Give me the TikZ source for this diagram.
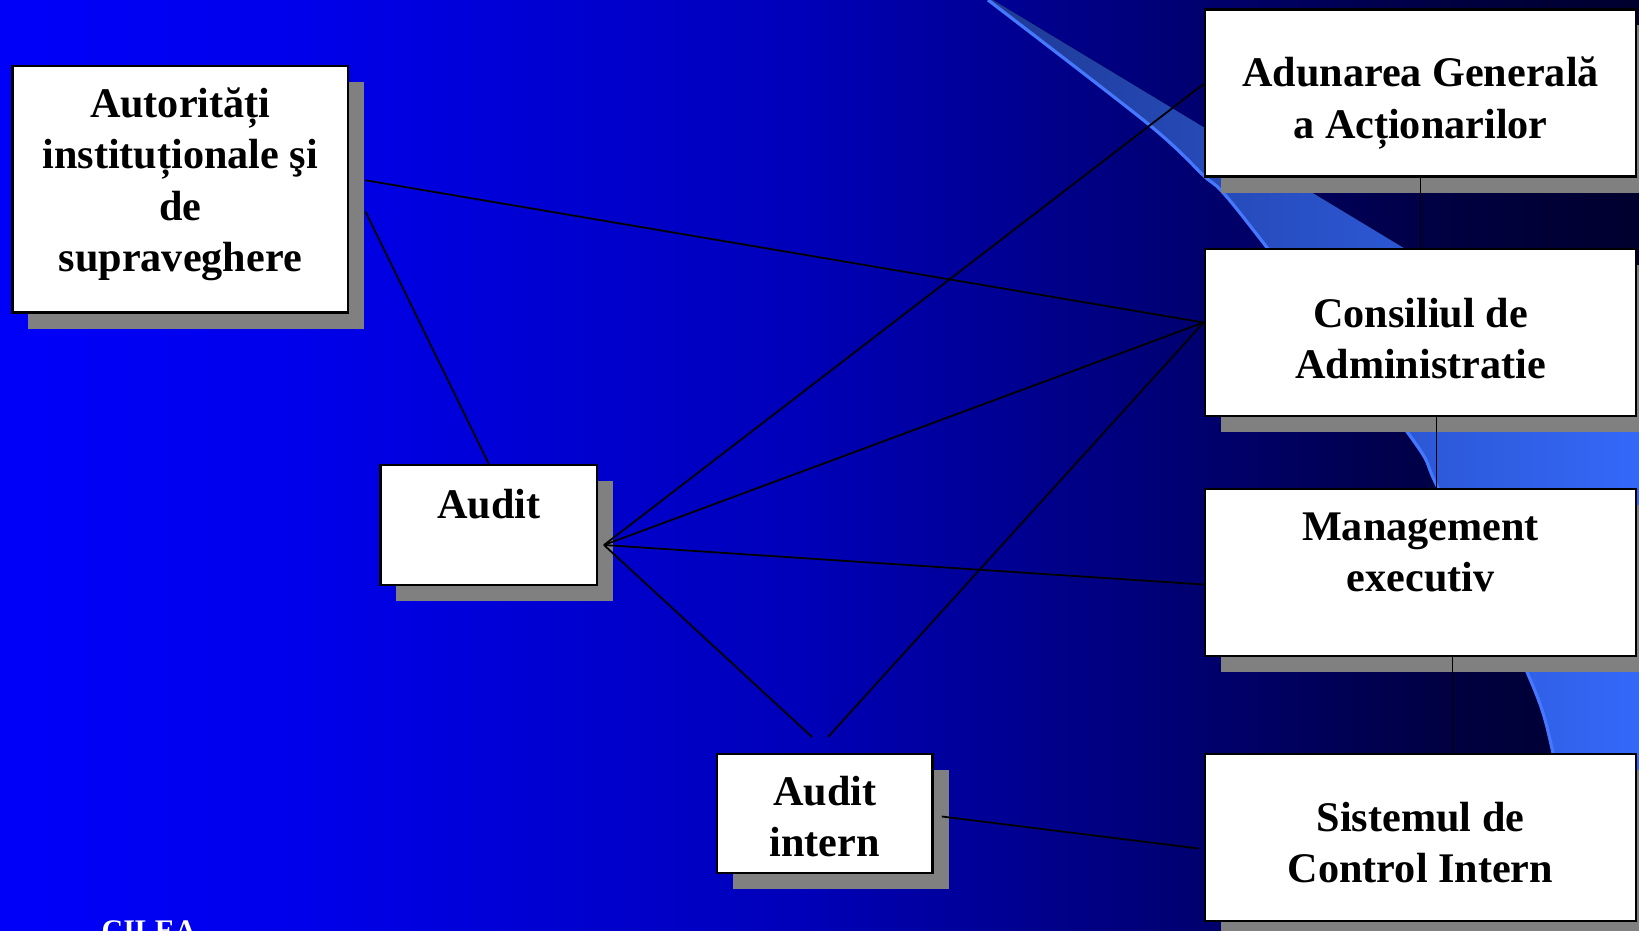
\documentclass[tikz,border=0pt]{standalone}
\usepackage{fontspec}
\setmainfont{Liberation Serif}
\usetikzlibrary{shadows}
\definecolor{bgA}{RGB}{0,0,250}
\definecolor{bgB}{RGB}{0,0,235}
\definecolor{bgC}{RGB}{0,0,185}
\definecolor{bgD}{RGB}{0,0,120}
\definecolor{bgE}{RGB}{0,0,64}
\definecolor{bgF}{RGB}{0,0,46}
\definecolor{swA}{RGB}{30,58,150}
\definecolor{swB}{RGB}{52,104,248}
\definecolor{swLine}{RGB}{70,120,255}
\pgfdeclarehorizontalshading{slidebg}{100bp}{color(0bp)=(bgA); color(25bp)=(bgA); color(34bp)=(bgB); color(49.4bp)=(bgC); color(60.1bp)=(bgD); color(69.5bp)=(bgE); color(75bp)=(bgF); color(100bp)=(bgF)}
\begin{document}
\begin{tikzpicture}[x=0.01cm,y=-0.01cm,
  box/.style={draw=black,line width=0.7pt,fill=white,inner sep=0pt,
    drop shadow={shadow xshift=0.16cm,shadow yshift=-0.16cm,opacity=1}},
  rbox/.style={box,minimum width=4.31cm,minimum height=1.67cm},
  txt/.style={align=center,inner sep=0pt,font=\fontsize{12}{14.6}\selectfont\bfseries},
  link/.style={line width=0.5pt}]
\useasboundingbox (0,0) rectangle (1639,930);
\clip (0,0) rectangle (1639,930);
\fill[shading=slidebg] (0,0) rectangle (1639,930);
\fill[left color=swA,right color=swB] plot[smooth] coordinates {(988,0) (1147,123) (1203,175) (1240,213) (1408,433) (1438,488) (1527,672) (1553,753) (1585,930)} -- (1639,930) -- (1639,390) -- (993,0) -- cycle;
\draw[swLine,line width=0.9pt] plot[smooth] coordinates {(988,0) (1147,123) (1203,175) (1240,213) (1408,433) (1438,488) (1527,672) (1553,753) (1585,930)};
\node[box,minimum width=3.355cm,minimum height=2.465cm] (aut) at (180.25,189.25) {};
\node[box,minimum width=2.165cm,minimum height=1.2cm] (audit) at (488.75,525) {};
\node[box,minimum width=2.155cm,minimum height=1.19cm] (ai) at (824.75,813.5) {};
\node[rbox] (aga) at (1420.5,93) {};
\node[rbox] (ca) at (1420.5,332.5) {};
\node[rbox] (me) at (1420.5,572.5) {};
\node[rbox] (sci) at (1420.5,837.5) {};
\node[txt] (autT) at ([shift={(0,-5)}]aut) {Autorități\\instituționale şi\\de\\supraveghere};
\node[txt] (auditT) at ([shift={(0,-21)}]audit) {Audit};
\node[txt] (aiT) at ([shift={(0,3)}]ai) {Audit\\intern};
\node[txt] (agaT) at ([shift={(0,10)}]aga) {Adunarea Generală\\a Acționarilor};
\node[txt] (caT) at ([shift={(0,6)}]ca) {Consiliul de\\Administratie};
\node[txt] (meT) at ([shift={(0,-20)}]me) {Management\\executiv};
\node[txt] (sciT) at ([shift={(0,5)}]sci) {Sistemul de\\Control Intern};
\coordinate (hub) at (604,545);
\coordinate (aiL) at (812,737);
\coordinate (aiR) at (828,737);
\coordinate (agaIn) at ([shift={(0,-9)}]aga.west);
\coordinate (caIn) at ([shift={(0,-10)}]ca.west);
\coordinate (meIn) at ([shift={(0,12)}]me.west);
\draw[link] ([shift={(16,-9)}]aut.east) -- (caIn);
\draw[link] ([shift={(16,22)}]aut.east) -- (audit.north);
\foreach \t in {agaIn,caIn,meIn,aiL}
{ \draw[link] (hub) -- (\t);};
\draw[link] (aiR) -- (caIn);
\draw[link] ([shift={(8,3)}]ai.east) -- ([shift={(-5,11)}]sci.west);
\draw[link] (aga.south) -- (ca.north);
\draw[link] ([shift={(16,0)}]ca.south) -- ([shift={(16,0)}]me.north);
\draw[link] ([shift={(32,0)}]me.south) -- ([shift={(32,0)}]sci.north);
\node[anchor=north west,inner sep=0pt,text=white,font=\fontsize{8.5}{10}\selectfont\bfseries] (cilea) at (101,920) {CILEA};
\end{tikzpicture}
\end{document}
